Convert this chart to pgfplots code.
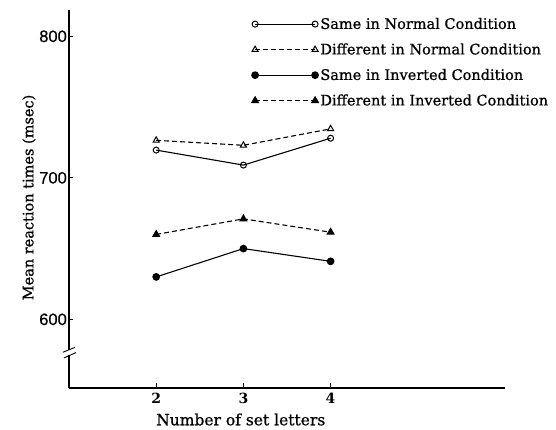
\documentclass[border=0pt]{standalone}
\usepackage{fontspec}
\setmainfont{DejaVu Serif}[FakeBold=0.8]
\setsansfont{Liberation Sans}[FakeBold=0.5]
\newfontfamily\tickfont{DejaVu Serif Bold}
\usepackage{pgfplots}
\pgfplotsset{compat=1.18}
\begin{document}
\begin{tikzpicture}
\useasboundingbox (-69pt,-42pt) rectangle (487pt,388pt);
\begin{axis}[
 scale only axis, width=436pt, height=378pt,
 xmin=1, xmax=6, ymin=551.5, ymax=818.6,
 axis lines=left, axis line style={-, line width=1.1pt},
 xtick={2,3,4}, ytick={600,700,800},
 tick align=inside, major tick length=4.5pt, tick style={line width=0.9pt, black},
 /pgf/number format/assume math mode=true,
 yticklabel style={font=\sffamily\fontsize{16.5}{16.5}\selectfont, inner sep=2pt},
 xticklabel style={font=\tickfont\fontsize{14}{14}\selectfont, yshift=-2pt},
 xlabel={Number of set letters}, ylabel={Mean reaction times (msec)},
 xlabel style={font=\fontsize{15.5}{15.5}\selectfont, at={([yshift=-31.5pt]axis description cs:0.394,0)}, anchor=center},
 ylabel style={font=\fontsize{14.5}{14.5}\selectfont, at={([xshift=-40pt]axis description cs:0,0.504)}, anchor=center},
 clip=false,
 legend style={draw=none, fill=none, at={(0.4188,0.985)}, anchor=north west, inner sep=0pt, font=\fontsize{14.5}{14.5}\selectfont, row sep=9pt},
 legend cell align=left,
 legend image code/.code={\draw[mark repeat=2,mark phase=1,#1] plot coordinates {(0pt,0pt) (30pt,0pt) (60pt,0pt)};},
]
\addplot[black, line width=1.1pt, mark=o, mark size=3pt, mark options={solid, line width=1pt}] coordinates {(2,719.6)(3,709)(4,728)};
\addlegendentry{Same in Normal Condition}
\addplot[black, line width=1.1pt, dash pattern=on 5pt off 3pt, mark=triangle, mark size=3.5pt, mark options={solid, line width=1pt}] coordinates {(2,726.5)(3,723)(4,734.6)};
\addlegendentry{Different in Normal Condition}
\addplot[black, line width=1.1pt, mark=*, mark size=3.3pt, mark options={solid, fill=black}] coordinates {(2,630)(3,650)(4,641)};
\addlegendentry{Same in Inverted Condition}
\addplot[black, line width=1.1pt, dash pattern=on 5pt off 3pt, mark=triangle*, mark size=3.8pt, mark options={solid, fill=black}] coordinates {(2,660)(3,671)(4,661.6)};
\addlegendentry{Different in Inverted Condition}
\fill[white] ([xshift=-3pt]axis cs:1,574.8) rectangle ([xshift=3pt]axis cs:1,578.2);
\draw[line width=0.9pt] ([xshift=-6pt]axis cs:1,576.8) -- ([xshift=6pt]axis cs:1,580.2);
\draw[line width=0.9pt] ([xshift=-5pt]axis cs:1,572.8) -- ([xshift=7pt]axis cs:1,576.5);
\end{axis}
\end{tikzpicture}
\end{document}
